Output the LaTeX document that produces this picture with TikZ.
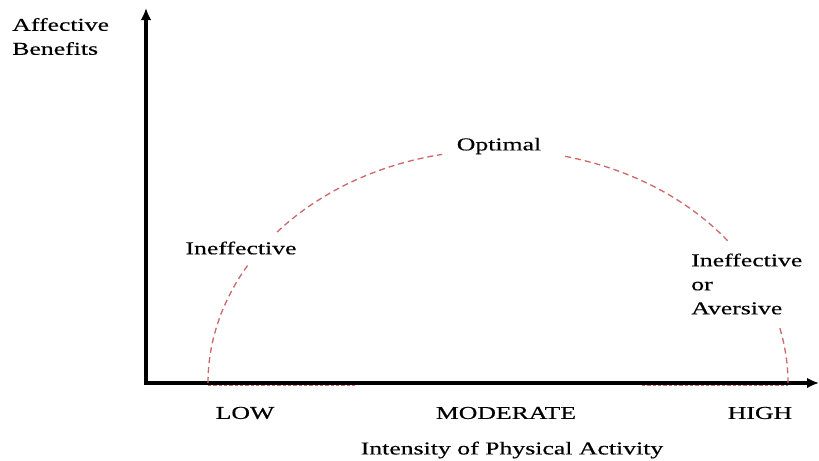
\documentclass[tikz,border=0pt]{standalone}
\usepackage{fontspec}
\setmainfont{Liberation Serif}[FakeStretch=1.42,FakeBold=0.4]
\usetikzlibrary{arrows.meta}
\begin{document}
\begin{tikzpicture}[x=0.75pt,y=-0.75pt,
  lbl/.style={font=\fontsize{13.6}{18}\selectfont, inner sep=0pt, text=black},
  axis/.style={line width=2.4pt,-{Latex[length=9pt,width=8pt]}},
  curve/.style={draw={rgb,255:red,205;green,105;blue,105}, line width=1pt, dash pattern=on 4.5pt off 3pt},
  base/.style={draw={rgb,255:red,205;green,105;blue,105}, line width=0.8pt, dash pattern=on 2.5pt off 1.5pt}]
\useasboundingbox (0,0) rectangle (819,461);
\coordinate (ybot) at (146,384.5);
\coordinate (xleft) at (144.5,383);
\coordinate (ytip) at (146,8);
\coordinate (xtip) at (819,383);
\draw[axis] (ybot) -- (ytip);
\draw[axis] (xleft) -- (xtip);
% dashed curve
\draw[curve] plot[domain=180:149.5,samples=40] ({498+290*cos(\x)},{383-233*sin(\x)});
\draw[curve] plot[domain=139.6:101.1,samples=40] ({498+290*cos(\x)},{383-233*sin(\x)});
\draw[curve] plot[domain=76.6:37.5,samples=40] ({498+290*cos(\x)},{383-233*sin(\x)});
\draw[curve] plot[domain=13.6:0,samples=20] ({498+290*cos(\x)},{383-233*sin(\x)});
\draw[base] (208,385.5) -- (355,385.5);
\draw[base] (642,385.5) -- (788,385.5);
% labels
\node[lbl, anchor=west, align=left] (yl) at (12,36.5) {Affective\\Benefits};
\node[lbl] (opt) at (499,146) {Optimal};
\node[lbl] (ineff) at (241,248) {Ineffective};
\node[lbl, anchor=west, align=left] (avers) at (691,284) {Ineffective\\or\\Aversive};
\node[lbl] (low) at (245,413) {LOW};
\node[lbl] (mod) at (506,413) {MODERATE};
\node[lbl] (high) at (760,413) {HIGH};
\node[lbl] (xl) at (512,450) {Intensity of Physical Activity};
\end{tikzpicture}
\end{document}
